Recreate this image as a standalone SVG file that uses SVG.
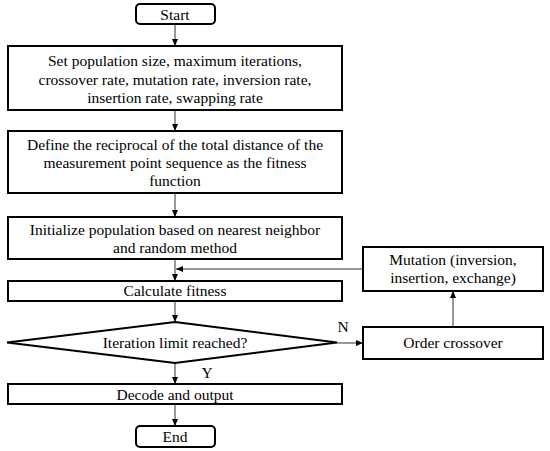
<svg xmlns="http://www.w3.org/2000/svg" width="550" height="451" viewBox="0 0 550 451">
<style>
.box{fill:#fff;stroke:#000;stroke-width:2}
.t{font-size:15.5px;fill:#000;text-anchor:middle}
.c{fill:none;stroke:#333;stroke-width:1}
</style>
<defs>
<marker id="ah" markerWidth="8" markerHeight="8" refX="7" refY="4" orient="auto" markerUnits="userSpaceOnUse">
<path d="M0,1 L7,4 L0,7 Z" fill="#000"/>
</marker>
</defs>
<rect width="550" height="451" fill="#fff"/>
<g id="connectors">
<line class="c" x1="175" y1="24" x2="175" y2="46" marker-end="url(#ah)"/>
<line class="c" x1="175" y1="110" x2="175" y2="131" marker-end="url(#ah)"/>
<line class="c" x1="175" y1="193" x2="175" y2="217" marker-end="url(#ah)"/>
<line class="c" x1="175" y1="259" x2="175" y2="281" marker-end="url(#ah)"/>
<line class="c" x1="175" y1="301" x2="175" y2="322" marker-end="url(#ah)"/>
<line class="c" x1="175" y1="363" x2="175" y2="384" marker-end="url(#ah)"/>
<line class="c" x1="175" y1="404" x2="175" y2="426" marker-end="url(#ah)"/>
<line class="c" x1="337" y1="343" x2="363" y2="343" marker-end="url(#ah)"/>
<line class="c" x1="453" y1="327" x2="453" y2="291" marker-end="url(#ah)"/>
<polyline class="c" points="363,269 176,269" marker-end="url(#ah)"/>
<text class="t" font-family="Liberation Serif" x="343" y="332">N</text>
<text class="t" font-family="Liberation Serif" x="207" y="378">Y</text>
</g>
<g id="start">
<rect class="box" x="136" y="4" width="79" height="20" rx="4"/>
<text class="t" font-family="Liberation Serif" x="175" y="19.5">Start</text>
</g>
<g id="set-params">
<rect class="box" x="8" y="46" width="334" height="64"/>
<text class="t" font-family="Liberation Serif" x="175" y="66">Set population size, maximum iterations,</text>
<text class="t" font-family="Liberation Serif" x="175" y="84.5">crossover rate, mutation rate, inversion rate,</text>
<text class="t" font-family="Liberation Serif" x="175" y="103">insertion rate, swapping rate</text>
</g>
<g id="define-fitness">
<rect class="box" x="8" y="131" width="334" height="62"/>
<text class="t" font-family="Liberation Serif" x="175" y="150">Define the reciprocal of the total distance of the</text>
<text class="t" font-family="Liberation Serif" x="175" y="168">measurement point sequence as the fitness</text>
<text class="t" font-family="Liberation Serif" x="175" y="186">function</text>
</g>
<g id="initialize">
<rect class="box" x="8" y="217" width="334" height="42"/>
<text class="t" font-family="Liberation Serif" x="175" y="235">Initialize population based on nearest neighbor</text>
<text class="t" font-family="Liberation Serif" x="175" y="253">and random method</text>
</g>
<g id="calc-fitness">
<rect class="box" x="8" y="281" width="334" height="20"/>
<text class="t" font-family="Liberation Serif" x="175" y="296">Calculate fitness</text>
</g>
<g id="decision">
<polygon class="box" points="175,322 337,342.5 175,363 7,342.5"/>
<text class="t" font-family="Liberation Serif" x="175" y="348">Iteration limit reached?</text>
</g>
<g id="decode">
<rect class="box" x="8" y="384" width="334" height="20"/>
<text class="t" font-family="Liberation Serif" x="175" y="399.5">Decode and output</text>
</g>
<g id="end">
<rect class="box" x="136" y="426" width="79" height="21" rx="4"/>
<text class="t" font-family="Liberation Serif" x="175" y="442">End</text>
</g>
<g id="mutation">
<rect class="box" x="363" y="247" width="180" height="44"/>
<text class="t" font-family="Liberation Serif" x="453" y="265">Mutation (inversion,</text>
<text class="t" font-family="Liberation Serif" x="453" y="283">insertion, exchange)</text>
</g>
<g id="order-crossover">
<rect class="box" x="363" y="327" width="180" height="32"/>
<text class="t" font-family="Liberation Serif" x="453" y="348">Order crossover</text>
</g>
</svg>
